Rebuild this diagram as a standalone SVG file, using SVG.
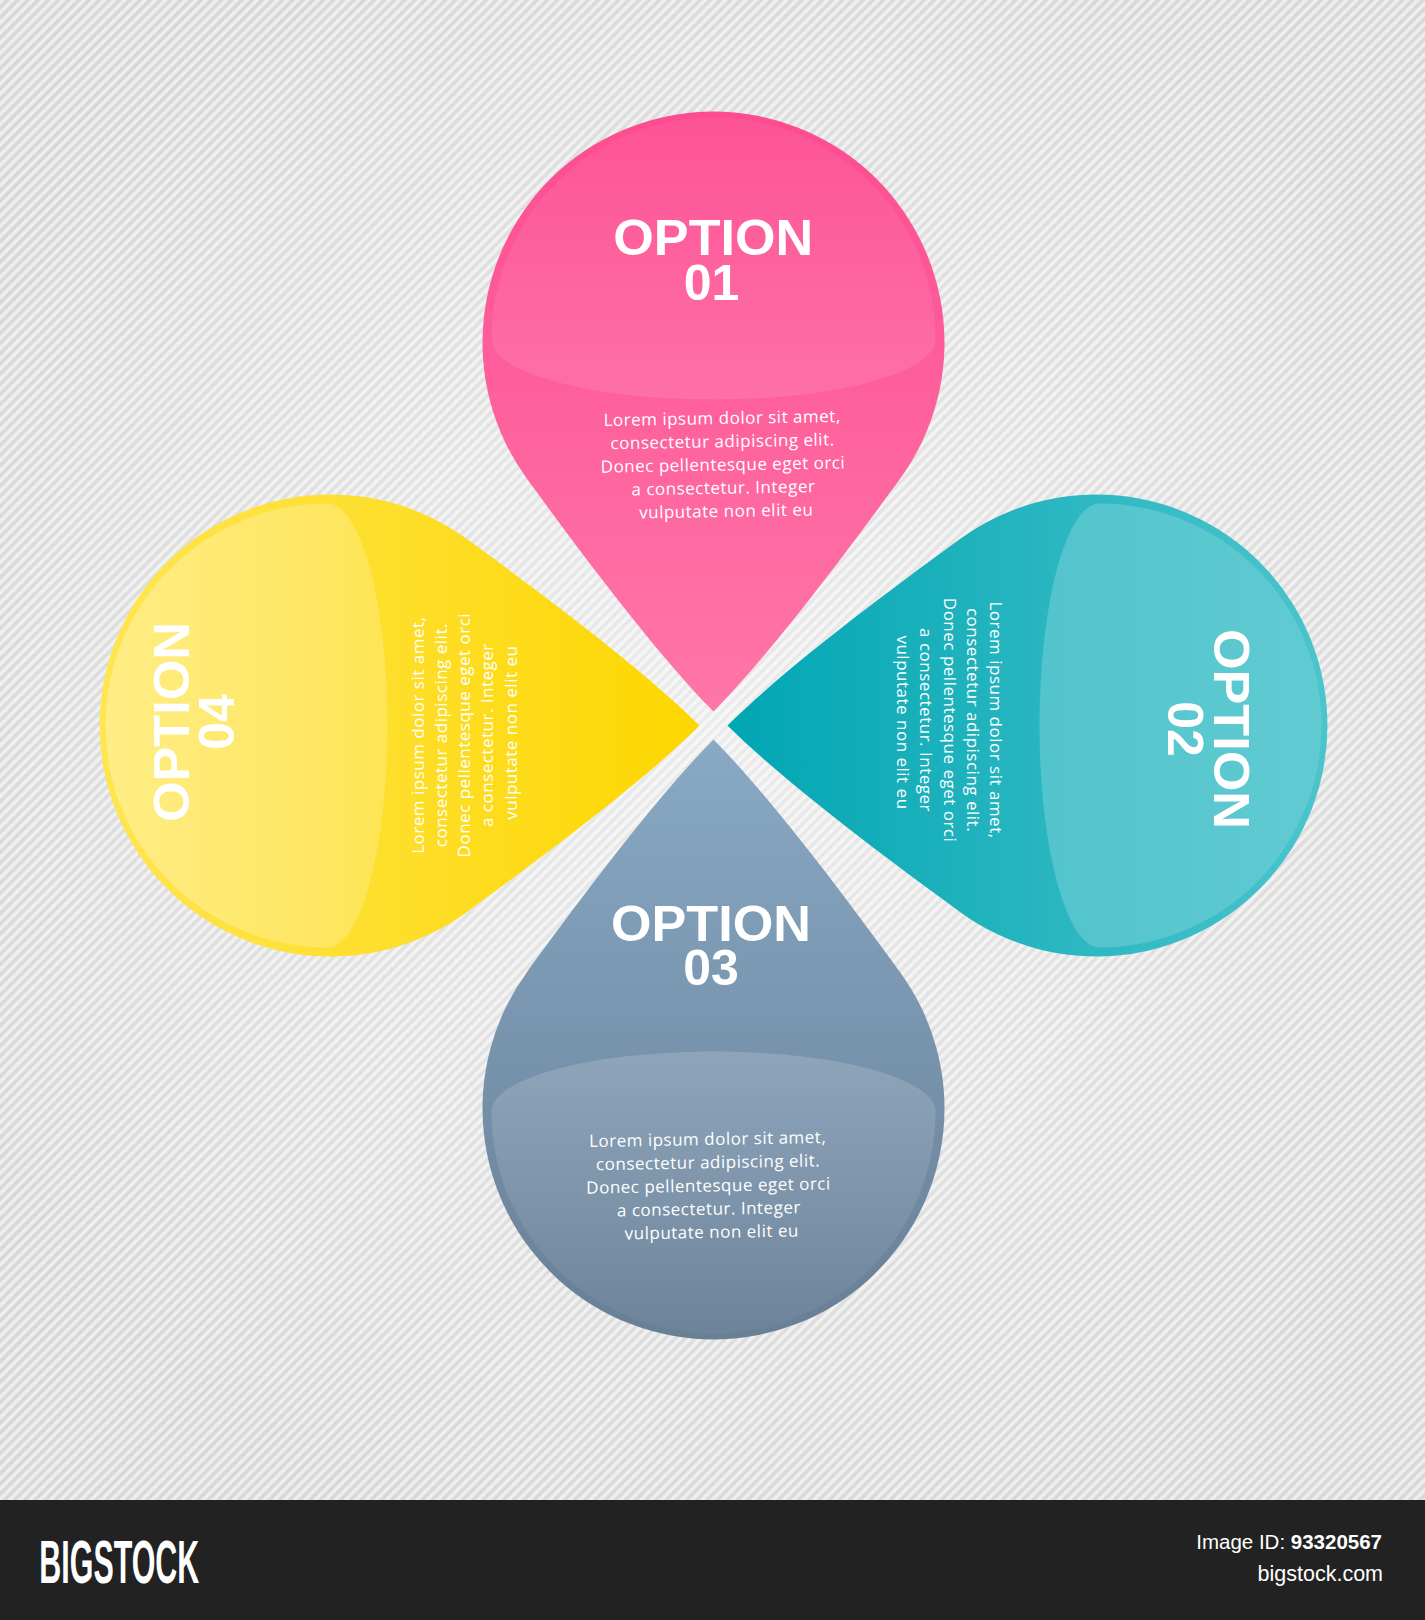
<svg xmlns="http://www.w3.org/2000/svg" width="1425" height="1620" viewBox="0 0 1425 1620">
<style>
.title{font-family:"Liberation Sans",Arial,sans-serif;font-weight:bold;font-size:50px;fill:#ffffff;text-anchor:middle}
.body{font-family:"Open Sans","Noto Sans",sans-serif;font-size:17px;letter-spacing:0.5px;fill:#ffffff;text-anchor:middle}
.foot{font-family:"Liberation Sans",Arial,sans-serif;fill:#ffffff}
</style>
<defs>
<pattern id="stripes" width="7.2" height="7.2" patternUnits="userSpaceOnUse" patternTransform="rotate(45)">
<rect width="7.2" height="7.2" fill="#d8d8d8"/>
<rect width="3.6" height="7.2" fill="#eeeeee"/>
</pattern>
<radialGradient id="glow" cx="713" cy="725" r="850" gradientUnits="userSpaceOnUse">
<stop offset="0" stop-color="#ffffff" stop-opacity="0.5"/>
<stop offset="1" stop-color="#ffffff" stop-opacity="0"/>
</radialGradient>
<path id="petal" d="M0,0 C-60,-60 -145.75,-176.6 -186.9,-233.2 A231,231 0 1,1 186.9,-233.2 C145.75,-176.6 60,-60 0,0 Z"/>
<path id="lens" d="M-222,-372 A222,222 0 0,1 222,-372 A222,60 0 0,1 -222,-372 Z"/>
<linearGradient id="pinkG" gradientUnits="userSpaceOnUse" x1="0" y1="0" x2="0" y2="-600">
<stop offset="0" stop-color="#ff76a8"/><stop offset="1" stop-color="#fd4c91"/>
</linearGradient>
<linearGradient id="grayG" gradientUnits="userSpaceOnUse" x1="0" y1="0" x2="0" y2="-600">
<stop offset="0" stop-color="#89a9c5"/><stop offset="1" stop-color="#687f96"/>
</linearGradient>
<linearGradient id="cyanG" gradientUnits="userSpaceOnUse" x1="0" y1="0" x2="0" y2="-600">
<stop offset="0" stop-color="#00a6b3"/><stop offset="1" stop-color="#4cc4cc"/>
</linearGradient>
<linearGradient id="yellowG" gradientUnits="userSpaceOnUse" x1="0" y1="0" x2="0" y2="-600">
<stop offset="0" stop-color="#fcd700"/><stop offset="1" stop-color="#ffe552"/>
</linearGradient>
<linearGradient id="pinkL" gradientUnits="userSpaceOnUse" x1="0" y1="-312" x2="0" y2="-594">
<stop offset="0" stop-color="#ffffff" stop-opacity="0.1"/><stop offset="1" stop-color="#ffffff" stop-opacity="0.04"/>
</linearGradient>
<linearGradient id="grayL" gradientUnits="userSpaceOnUse" x1="0" y1="-312" x2="0" y2="-594">
<stop offset="0" stop-color="#ffffff" stop-opacity="0.16"/><stop offset="1" stop-color="#ffffff" stop-opacity="0.03"/>
</linearGradient>
<linearGradient id="cyanL" gradientUnits="userSpaceOnUse" x1="0" y1="-312" x2="0" y2="-594">
<stop offset="0" stop-color="#ffffff" stop-opacity="0.2"/><stop offset="1" stop-color="#ffffff" stop-opacity="0.12"/>
</linearGradient>
<linearGradient id="yellowL" gradientUnits="userSpaceOnUse" x1="0" y1="-312" x2="0" y2="-594">
<stop offset="0" stop-color="#ffffff" stop-opacity="0.2"/><stop offset="1" stop-color="#ffffff" stop-opacity="0.3"/>
</linearGradient>
</defs>

<rect width="1425" height="1500" fill="url(#stripes)"/>
<rect width="1425" height="1500" fill="url(#glow)"/>

<g id="option-01">
<use href="#petal" transform="translate(713.5,711.5)" fill="url(#pinkG)"/>
<use href="#lens" transform="translate(713.5,711.5)" fill="url(#pinkL)"/>
<text class="title"><tspan x="713.3" y="255" textLength="200" lengthAdjust="spacingAndGlyphs">OPTION</tspan><tspan x="711.5" y="300">01</tspan></text>
<text class="body" transform="rotate(-1 725 470)">
<tspan x="725.5" y="424">Lorem ipsum dolor sit amet,</tspan>
<tspan x="725.5" y="447.25">consectetur adipiscing elit.</tspan>
<tspan x="725.5" y="470.5">Donec pellentesque eget orci</tspan>
<tspan x="725.5" y="493.75">a consectetur. Integer</tspan>
<tspan x="725.5" y="517">vulputate non elit eu</tspan>
</text>
</g>

<g id="option-02">
<use href="#petal" transform="translate(727.5,725.5) rotate(90)" fill="url(#cyanG)"/>
<use href="#lens" transform="translate(727.5,725.5) rotate(90)" fill="url(#cyanL)"/>
<text class="title" transform="translate(1214,729) rotate(90)"><tspan x="0" y="0" textLength="200" lengthAdjust="spacingAndGlyphs">OPTION</tspan><tspan x="0" y="46">02</tspan></text>
<text class="body" transform="translate(990,722.5) rotate(90)">
<tspan x="0" y="0">Lorem ipsum dolor sit amet,</tspan>
<tspan x="0" y="23.25">consectetur adipiscing elit.</tspan>
<tspan x="0" y="46.5">Donec pellentesque eget orci</tspan>
<tspan x="0" y="69.75">a consectetur. Integer</tspan>
<tspan x="0" y="93">vulputate non elit eu</tspan>
</text>
</g>

<g id="option-03">
<use href="#petal" transform="translate(713.5,739.5) rotate(180)" fill="url(#grayG)"/>
<use href="#lens" transform="translate(713.5,739.5) rotate(180)" fill="url(#grayL)"/>
<text class="title"><tspan x="711" y="940.5" textLength="200" lengthAdjust="spacingAndGlyphs">OPTION</tspan><tspan x="711" y="985">03</tspan></text>
<text class="body" transform="rotate(-1 711 1190)">
<tspan x="711" y="1145">Lorem ipsum dolor sit amet,</tspan>
<tspan x="711" y="1168.25">consectetur adipiscing elit.</tspan>
<tspan x="711" y="1191.5">Donec pellentesque eget orci</tspan>
<tspan x="711" y="1214.75">a consectetur. Integer</tspan>
<tspan x="711" y="1238">vulputate non elit eu</tspan>
</text>
</g>

<g id="option-04">
<use href="#petal" transform="translate(699.5,725.5) rotate(-90)" fill="url(#yellowG)"/>
<use href="#lens" transform="translate(699.5,725.5) rotate(-90)" fill="url(#yellowL)"/>
<text class="title" transform="translate(189,722) rotate(-90)"><tspan x="0" y="0" textLength="200" lengthAdjust="spacingAndGlyphs">OPTION</tspan><tspan x="0" y="44.5">04</tspan></text>
<text class="body" transform="translate(423.7,732.7) rotate(-90)">
<tspan x="0" y="0">Lorem ipsum dolor sit amet,</tspan>
<tspan x="0" y="23.25">consectetur adipiscing elit.</tspan>
<tspan x="0" y="46.5">Donec pellentesque eget orci</tspan>
<tspan x="0" y="69.75">a consectetur. Integer</tspan>
<tspan x="0" y="93">vulputate non elit eu</tspan>
</text>
</g>

<g id="connectors"></g>

<g id="footer">
<rect x="0" y="1500" width="1425" height="120" fill="#222222"/>
<text class="foot" x="39.3" y="1583.3" font-size="62" font-weight="bold" textLength="160" lengthAdjust="spacingAndGlyphs">BIGSTOCK</text>
<text class="foot" x="1382" y="1549.3" font-size="20.5" text-anchor="end">Image ID: <tspan font-weight="bold">93320567</tspan></text>
<text class="foot" x="1383" y="1581" font-size="21.5" text-anchor="end">bigstock.com</text>
</g>
</svg>
